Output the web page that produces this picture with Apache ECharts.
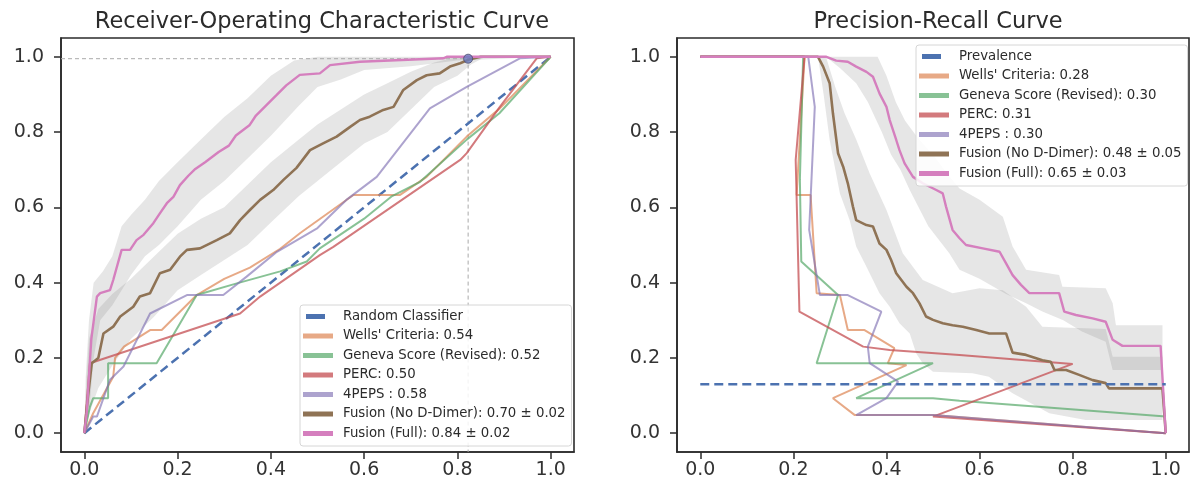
<!DOCTYPE html>
<html>
<head>
<meta charset="utf-8">
<script src="https://cdn.jsdelivr.net/npm/echarts@6.0.0/dist/echarts.min.js"></script>
<style>
html,body{margin:0;padding:0;background:#fff;}
#chart{width:1190px;height:491px;}
</style>
</head>
<body>
<div id="chart"></div>
<script>
// ---------- data ----------
const tickValues = [0, 0.2, 0.4, 0.6, 0.8, 1.0];

const rocNames = ["Random Classifier", "Wells' Criteria: 0.54", "Geneva Score (Revised): 0.52", "PERC: 0.50", "4PEPS : 0.58", "Fusion (No D-Dimer): 0.70 \u00b1 0.02", "Fusion (Full): 0.84 \u00b1 0.02"];
const prNames = ["Prevalence", "Wells' Criteria: 0.28", "Geneva Score (Revised): 0.30", "PERC: 0.31", "4PEPS : 0.30", "Fusion (No D-Dimer): 0.48 \u00b1 0.05", "Fusion (Full): 0.65 \u00b1 0.03"];

const rocRandom = [[0,0],[1,1]];
const rocWells = [[0,0],[0.019,0.053],[0.062,0.15],[0.066,0.2],[0.085,0.23],[0.141,0.274],[0.166,0.274],[0.241,0.367],[0.3,0.41],[0.355,0.44],[0.42,0.49],[0.463,0.532],[0.577,0.633],[0.677,0.633],[0.734,0.681],[0.82,0.788],[0.891,0.863],[1,1]];
const rocGeneva = [[0,0],[0.012,0.07],[0.019,0.093],[0.051,0.093],[0.051,0.186],[0.155,0.186],[0.241,0.367],[0.327,0.398],[0.42,0.43],[0.477,0.456],[0.505,0.491],[0.6,0.57],[0.66,0.63],[0.72,0.668],[0.82,0.78],[0.89,0.85],[1,1]];
const rocPerc = [[0,0],[0.012,0.186],[0.334,0.318],[0.377,0.363],[0.505,0.473],[0.534,0.495],[0.806,0.726],[0.82,0.744],[0.891,0.867],[0.97,0.996],[1,1]];
const rocPeps = [[0,0],[0.019,0.044],[0.027,0.044],[0.055,0.142],[0.084,0.177],[0.141,0.318],[0.22,0.367],[0.298,0.367],[0.348,0.416],[0.413,0.482],[0.5,0.545],[0.564,0.622],[0.627,0.681],[0.741,0.863],[0.82,0.92],[0.934,0.996],[1,1]];
const rocNoD = [[0,0],[0.008,0.1],[0.016,0.186],[0.03,0.2],[0.041,0.265],[0.062,0.283],[0.077,0.31],[0.105,0.336],[0.119,0.363],[0.141,0.372],[0.162,0.425],[0.184,0.434],[0.205,0.469],[0.22,0.487],[0.248,0.491],[0.284,0.513],[0.312,0.531],[0.334,0.566],[0.355,0.593],[0.377,0.62],[0.405,0.646],[0.427,0.673],[0.455,0.705],[0.484,0.752],[0.512,0.77],[0.541,0.788],[0.57,0.814],[0.591,0.832],[0.612,0.841],[0.641,0.859],[0.663,0.867],[0.684,0.912],[0.713,0.938],[0.734,0.951],[0.762,0.956],[0.784,0.974],[0.806,0.983],[0.823,0.992],[0.85,1.0],[1,1]];
const rocFull = [[0,0],[0.005,0.053],[0.015,0.25],[0.027,0.363],[0.034,0.372],[0.055,0.38],[0.062,0.407],[0.08,0.487],[0.098,0.487],[0.112,0.513],[0.127,0.527],[0.148,0.558],[0.162,0.584],[0.177,0.611],[0.191,0.628],[0.205,0.659],[0.223,0.684],[0.238,0.702],[0.259,0.72],[0.288,0.747],[0.31,0.764],[0.325,0.791],[0.354,0.818],[0.368,0.844],[0.39,0.871],[0.412,0.898],[0.433,0.924],[0.462,0.952],[0.505,0.956],[0.527,0.978],[0.591,0.987],[0.77,0.996],[0.777,1.0],[1,1]];

const rocFullUpper = [[0,0],[0.003,0.15],[0.01,0.3],[0.02,0.4],[0.04,0.43],[0.06,0.47],[0.08,0.55],[0.1,0.58],[0.13,0.62],[0.16,0.67],[0.2,0.72],[0.25,0.78],[0.3,0.84],[0.35,0.89],[0.4,0.95],[0.45,0.99],[0.5,1.0],[1,1]];
const rocFullLower = [[0,0],[0.01,0.05],[0.02,0.2],[0.034,0.3],[0.06,0.34],[0.08,0.38],[0.1,0.42],[0.13,0.47],[0.16,0.5],[0.2,0.55],[0.25,0.62],[0.3,0.67],[0.35,0.73],[0.4,0.79],[0.46,0.87],[0.5,0.92],[0.55,0.94],[0.6,0.965],[0.7,0.975],[0.8,0.99],[1,1]];
const rocNoDUpper = [[0,0],[0.005,0.15],[0.01,0.25],[0.03,0.33],[0.06,0.37],[0.1,0.41],[0.15,0.47],[0.2,0.53],[0.25,0.57],[0.3,0.6],[0.35,0.66],[0.4,0.72],[0.46,0.78],[0.5,0.82],[0.55,0.86],[0.6,0.9],[0.65,0.93],[0.7,0.96],[0.75,0.985],[0.8,1.0],[1,1]];
const rocNoDLower = [[0,0],[0.01,0.05],[0.03,0.12],[0.06,0.18],[0.1,0.25],[0.15,0.31],[0.2,0.38],[0.25,0.42],[0.3,0.46],[0.35,0.5],[0.4,0.56],[0.46,0.63],[0.5,0.67],[0.55,0.72],[0.6,0.77],[0.65,0.8],[0.7,0.86],[0.75,0.92],[0.8,0.95],[0.83,0.98],[0.86,1.0],[1,1]];

const optimalPoint = [0.823, 0.995];
const axisMin = -0.05;

const prevalence = 0.13;
const prWells = [[0,1],[0.224,1],[0.207,0.633],[0.237,0.633],[0.25,0.372],[0.3,0.367],[0.317,0.274],[0.353,0.274],[0.417,0.226],[0.403,0.186],[0.443,0.181],[0.285,0.093],[0.332,0.048],[0.5,0.048],[1,0]];
const prGeneva = [[0,1],[0.221,1],[0.214,0.673],[0.217,0.456],[0.296,0.367],[0.25,0.186],[0.5,0.186],[0.335,0.093],[0.5,0.093],[0.557,0.086],[1.0,0.044]];
const prPerc = [[0,1],[0.224,1],[0.205,0.726],[0.213,0.323],[0.35,0.23],[0.407,0.221],[0.557,0.208],[0.8,0.184],[0.5,0.044],[1,0]];
const prPeps = [[0,1],[0.232,1],[0.246,0.867],[0.234,0.54],[0.257,0.367],[0.317,0.367],[0.389,0.323],[0.36,0.23],[0.364,0.186],[0.425,0.137],[0.4,0.093],[0.335,0.048],[0.5,0.048],[1,0]];
const prNoD = [[0,1],[0.253,1],[0.264,0.974],[0.278,0.93],[0.285,0.85],[0.296,0.744],[0.307,0.708],[0.317,0.664],[0.328,0.602],[0.335,0.566],[0.357,0.553],[0.371,0.549],[0.385,0.504],[0.4,0.487],[0.41,0.46],[0.421,0.425],[0.432,0.407],[0.443,0.389],[0.457,0.372],[0.471,0.345],[0.485,0.31],[0.5,0.301],[0.521,0.292],[0.542,0.287],[0.564,0.283],[0.593,0.274],[0.621,0.265],[0.657,0.265],[0.671,0.214],[0.7,0.208],[0.735,0.194],[0.753,0.19],[0.761,0.168],[0.786,0.168],[0.814,0.155],[0.843,0.141],[0.871,0.133],[0.878,0.119],[0.993,0.119],[1,0]];
const prFull = [[0,1],[0.271,1],[0.292,0.99],[0.317,0.987],[0.335,0.974],[0.357,0.96],[0.371,0.947],[0.385,0.903],[0.4,0.867],[0.407,0.832],[0.421,0.779],[0.428,0.752],[0.439,0.717],[0.457,0.681],[0.478,0.664],[0.507,0.646],[0.521,0.637],[0.528,0.602],[0.542,0.54],[0.557,0.518],[0.571,0.5],[0.607,0.491],[0.643,0.482],[0.657,0.451],[0.671,0.42],[0.689,0.394],[0.707,0.372],[0.771,0.372],[0.782,0.323],[0.807,0.314],[0.843,0.305],[0.871,0.296],[0.886,0.248],[0.907,0.232],[0.989,0.232],[1,0]];

const prFullUpper = [[0.27,1],[0.381,1],[0.4,0.95],[0.42,0.88],[0.44,0.83],[0.47,0.78],[0.5,0.74],[0.53,0.69],[0.557,0.65],[0.6,0.62],[0.65,0.575],[0.671,0.496],[0.7,0.434],[0.771,0.42],[0.778,0.389],[0.871,0.385],[0.886,0.345],[0.893,0.287],[0.993,0.287]];
const prFullLower = [[0.27,1],[0.3,0.97],[0.335,0.93],[0.36,0.88],[0.39,0.8],[0.41,0.74],[0.43,0.7],[0.45,0.646],[0.49,0.55],[0.535,0.478],[0.557,0.434],[0.6,0.41],[0.657,0.37],[0.7,0.345],[0.735,0.323],[0.78,0.3],[0.82,0.27],[0.871,0.243],[0.886,0.168],[0.993,0.168]];
const prNoDUpper = [[0.253,1],[0.27,1],[0.29,0.92],[0.31,0.85],[0.335,0.78],[0.364,0.69],[0.4,0.593],[0.435,0.478],[0.478,0.407],[0.542,0.372],[0.6,0.385],[0.65,0.38],[0.7,0.336],[0.735,0.283],[0.871,0.277],[0.886,0.203],[0.993,0.203]];
const prNoDLower = [[0.253,1],[0.265,0.9],[0.278,0.779],[0.3,0.637],[0.321,0.566],[0.335,0.496],[0.357,0.442],[0.385,0.372],[0.407,0.336],[0.428,0.292],[0.45,0.265],[0.464,0.212],[0.478,0.186],[0.5,0.163],[0.585,0.159],[0.62,0.15],[0.671,0.106],[0.75,0.053],[0.828,0.035],[0.993,0.035]];

// ---------- styles ----------
const FONT = 'DejaVu Sans';
const C = {
  blue: '#4C72B0',
  orange: 'rgba(221,132,82,0.7)',
  green: 'rgba(85,168,104,0.7)',
  red: 'rgba(196,78,82,0.75)',
  purple: 'rgba(129,114,179,0.65)',
  brown: '#8F7355',
  pink: '#D57FBE'
};
const bandFill = 'rgba(128,128,128,0.2)';
const handle = 'path://M0,0 M35,5 M0,0 H30 V5 H0 Z';
const shortHandle = 'path://M0,0 M35,5 M3,0 H22 V5 H3 Z';

function axisX(gi) {
  return {
    type: 'value', gridIndex: gi, min: axisMin, max: 1.05,
    splitLine: {show: false},
    axisLine: {show: true, onZero: false, lineStyle: {color: '#2b2b2b', width: 1.6}},
    axisTick: {show: true, inside: false, length: 7, customValues: tickValues, lineStyle: {color: '#2b2b2b', width: 1.5}},
    axisLabel: {customValues: tickValues, formatter: v => v.toFixed(1), fontSize: 19, fontFamily: FONT, color: '#333', margin: 9}
  };
}
function axisY(gi) {
  return {
    type: 'value', gridIndex: gi, min: axisMin, max: 1.05,
    splitLine: {show: false},
    axisLine: {show: true, onZero: false, lineStyle: {color: '#2b2b2b', width: 1.6}},
    axisTick: {show: true, inside: false, length: 7, customValues: tickValues, lineStyle: {color: '#2b2b2b', width: 1.5}},
    axisLabel: {customValues: tickValues, formatter: v => v.toFixed(1), fontSize: 19, fontFamily: FONT, color: '#333', margin: 17}
  };
}
function line(name, data, gi, color, width, extra) {
  return Object.assign({
    type: 'line', name, data, xAxisIndex: gi, yAxisIndex: gi,
    showSymbol: false, symbol: 'none', smooth: false, animation: false,
    lineStyle: {color, width}, itemStyle: {color}, z: 3
  }, extra || {});
}
function band(upper, lower, gi) {
  const pts = upper.concat(lower.slice().reverse());
  return {
    type: 'custom', xAxisIndex: gi, yAxisIndex: gi, data: [0], silent: true, z: 1,
    renderItem: (params, api) => ({
      type: 'polygon',
      shape: {points: pts.map(p => api.coord(p))},
      style: {fill: bandFill, stroke: 'none'}
    })
  };
}
function legendData(names) {
  return names.map((n, i) => ({name: n, icon: i === 0 ? shortHandle : handle}));
}
const legendCommon = {
  orient: 'vertical', itemWidth: 35, itemHeight: 5, itemGap: 4.5,
  backgroundColor: 'rgba(255,255,255,0.85)', borderColor: '#d6d6d6', borderWidth: 1, borderRadius: 3,
  textStyle: {fontSize: 13.3, fontFamily: FONT, color: '#2b2b2b', lineHeight: 15},
  selectedMode: false
};

const chart = echarts.init(document.getElementById('chart'), null, {renderer: 'canvas'});
chart.setOption({
  animation: false,
  backgroundColor: '#fff',
  title: [
    {text: 'Receiver-Operating Characteristic Curve', left: 317, top: 6, textAlign: 'center',
     textStyle: {fontFamily: FONT, fontSize: 22.5, fontWeight: 'normal', color: '#2b2b2b'}},
    {text: 'Precision-Recall Curve', left: 933, top: 6, textAlign: 'center',
     textStyle: {fontFamily: FONT, fontSize: 22.5, fontWeight: 'normal', color: '#2b2b2b'}}
  ],
  grid: [
    {left: 61, top: 38, width: 513, height: 414, show: true, borderColor: '#2b2b2b', borderWidth: 1.6, backgroundColor: '#fff'},
    {left: 677, top: 38, width: 512, height: 414, show: true, borderColor: '#2b2b2b', borderWidth: 1.6, backgroundColor: '#fff'}
  ],
  xAxis: [axisX(0), axisX(1)],
  yAxis: [axisY(0), axisY(1)],
  legend: [
    Object.assign({}, legendCommon, {left: 300, top: 305, padding: [4, 6, 5, 3], data: legendData(rocNames)}),
    Object.assign({}, legendCommon, {left: 916, top: 45, padding: [4, 6, 5, 3], data: legendData(prNames)})
  ],
  series: [
    band(rocFullUpper, rocFullLower, 0),
    band(rocNoDUpper, rocNoDLower, 0),
    line('optimal-ref', [[axisMin, optimalPoint[1]], optimalPoint, [optimalPoint[0], axisMin]], 0, '#aaaaaa', 1, {lineStyle: {color: '#aaaaaa', width: 1, type: [4, 3]}, z: 2}),
    line(rocNames[0], rocRandom, 0, C.blue, 2.5, {lineStyle: {color: C.blue, width: 2.5, type: [9, 5]}}),
    line(rocNames[1], rocWells, 0, C.orange, 2),
    line(rocNames[2], rocGeneva, 0, C.green, 2),
    line(rocNames[3], rocPerc, 0, C.red, 2),
    line(rocNames[4], rocPeps, 0, C.purple, 2),
    line(rocNames[5], rocNoD, 0, C.brown, 2.6),
    line(rocNames[6], rocFull, 0, C.pink, 2.4),
    {type: 'scatter', xAxisIndex: 0, yAxisIndex: 0, data: [optimalPoint], symbolSize: 9, z: 5,
     itemStyle: {color: '#6a7cbf', borderColor: '#4a4a6a', borderWidth: 1}},

    band(prFullUpper, prFullLower, 1),
    band(prNoDUpper, prNoDLower, 1),
    line(prNames[0], [[0, prevalence], [1, prevalence]], 1, C.blue, 2.5, {lineStyle: {color: C.blue, width: 2.5, type: [9, 5]}, z: 4}),
    line(prNames[1], prWells, 1, C.orange, 2),
    line(prNames[2], prGeneva, 1, C.green, 2),
    line(prNames[3], prPerc, 1, C.red, 2),
    line(prNames[4], prPeps, 1, C.purple, 2),
    line(prNames[5], prNoD, 1, C.brown, 2.6),
    line(prNames[6], prFull, 1, C.pink, 2.4)
  ]
});
</script>
</body>
</html>
